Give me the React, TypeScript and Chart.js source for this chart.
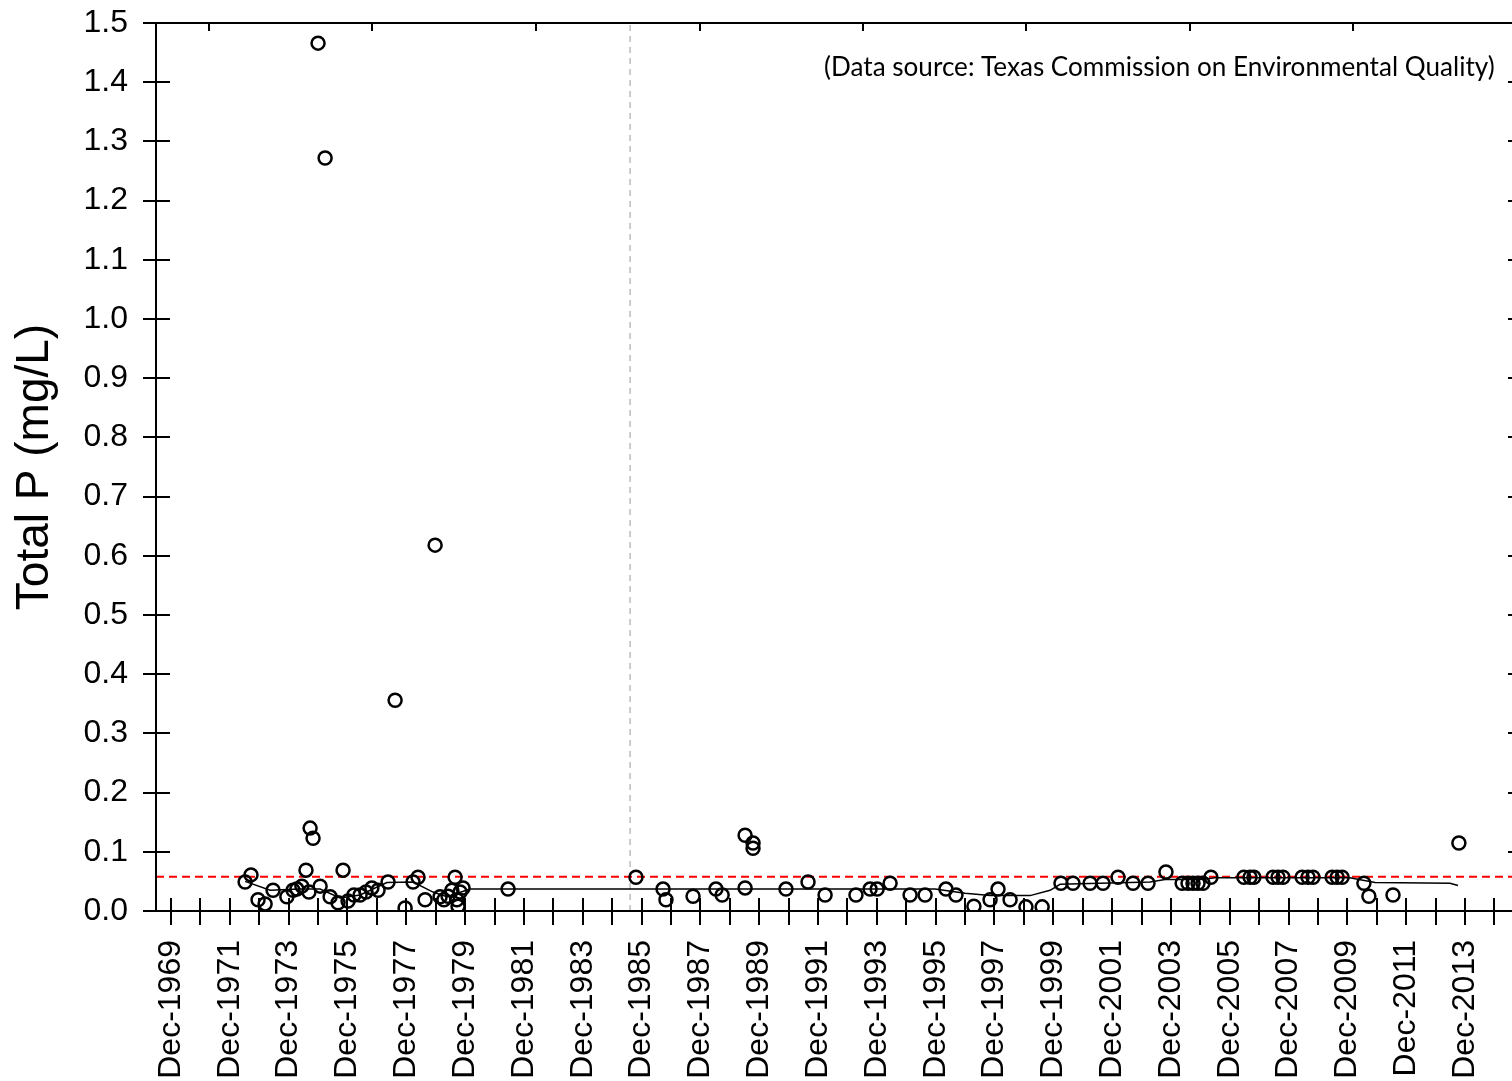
import React, { useEffect, useRef } from "react";
import { Chart, registerables } from "chart.js";

Chart.register(...registerables);

// ---- data ----
const sampleYears = [
  1972.44, 1972.64, 1972.88, 1973.12, 1973.39, 1973.86, 1974.07, 1974.2, 1974.37, 1974.51,
  1974.61, 1974.65, 1974.75, 1974.92, 1974.99, 1975.16, 1975.33, 1975.6, 1975.77, 1975.94,
  1976.14, 1976.35, 1976.55, 1976.75, 1976.96, 1977.3, 1977.54, 1977.88, 1978.15, 1978.32,
  1978.56, 1978.9, 1979.07, 1979.2, 1979.34, 1979.47, 1979.58, 1979.64, 1979.68, 1979.75,
  1979.85, 1981.38,
  1985.73, 1986.65, 1986.75, 1987.67, 1988.45, 1988.66, 1989.44, 1989.44, 1989.71, 1989.71,
  1990.83, 1991.58, 1992.16, 1993.21, 1993.69, 1993.93, 1994.37, 1995.05, 1995.56, 1996.27,
  1996.61, 1997.22, 1997.77, 1998.04, 1998.45, 1998.99, 1999.54, 2000.18, 2000.59, 2001.17,
  2001.61, 2002.12, 2002.63, 2003.14, 2003.75, 2004.3, 2004.5, 2004.67, 2004.84, 2005.01,
  2005.28, 2006.4, 2006.61, 2006.74, 2007.39, 2007.56, 2007.73, 2008.38, 2008.58, 2008.75,
  2009.4, 2009.57, 2009.74, 2010.48, 2010.65, 2011.47, 2013.71,
];
const sampleTP = [
  0.049, 0.061, 0.019, 0.012, 0.035, 0.024, 0.035, 0.037, 0.042, 0.069,
  0.032, 0.14, 0.123, 1.466, 0.042, 1.272, 0.024, 0.014, 0.069, 0.017,
  0.027, 0.027, 0.032, 0.039, 0.035, 0.049, 0.356, 0.005, 0.049, 0.057,
  0.019, 0.618, 0.024, 0.019, 0.025, 0.035, 0.057, 0.019, 0.008, 0.032,
  0.039, 0.037,
  0.057, 0.037, 0.019, 0.025, 0.037, 0.027, 0.128, 0.039, 0.115, 0.106,
  0.037, 0.049, 0.027, 0.027, 0.037, 0.037, 0.047, 0.027, 0.027, 0.037,
  0.027, 0.008, 0.019, 0.037, 0.019, 0.007, 0.007, 0.047, 0.047, 0.047,
  0.047, 0.057, 0.047, 0.047, 0.066, 0.047, 0.047, 0.047, 0.047, 0.047,
  0.057, 0.057, 0.057, 0.057, 0.057, 0.057, 0.057, 0.057, 0.057, 0.057,
  0.057, 0.057, 0.057, 0.047, 0.025, 0.027, 0.115,
];

const trendYears = [
  1972.44, 1973.29, 1974.31, 1974.99, 1975.67, 1976.35, 1977.26, 1978.15, 1978.83, 1979.3,
  1980.09, 1995.9, 1996.92, 1997.77, 1999.13, 1999.81, 2000.15, 2003.21, 2003.72, 2004.9,
  2005.42, 2010.0, 2010.86, 2013.41, 2013.68,
];
const trendTP = [
  0.05, 0.035, 0.037, 0.037, 0.022, 0.027, 0.048, 0.049, 0.032, 0.024,
  0.037, 0.037, 0.03, 0.026, 0.026, 0.035, 0.045, 0.049, 0.053, 0.053,
  0.056, 0.056, 0.048, 0.047, 0.043,
];

const criterionTP = 0.058;
const divideYear = 1985.53;

const xMin = 1969.41;
const xMax = 2015.72;

const decTickYears = [
  1969, 1970, 1971, 1972, 1973, 1974, 1975, 1976, 1977, 1978, 1979, 1980, 1981, 1982, 1983,
  1984, 1985, 1986, 1987, 1988, 1989, 1990, 1991, 1992, 1993, 1994, 1995, 1996, 1997, 1998,
  1999, 2000, 2001, 2002, 2003, 2004, 2005, 2006, 2007, 2008, 2009, 2010, 2011, 2012, 2013,
  2014,
];
const xLabelYears = [
  1969, 1971, 1973, 1975, 1977, 1979, 1981, 1983, 1985, 1987, 1989, 1991, 1993, 1995, 1997,
  1999, 2001, 2003, 2005, 2007, 2009, 2011, 2013,
];
const DEC_OFFSET = 0.92;
const topTickYears = [1971.21, 1976.75, 1982.33, 1987.91, 1993.45, 1998.99, 2004.57, 2010.12];
const yTicks = [0, 0.1, 0.2, 0.3, 0.4, 0.5, 0.6, 0.7, 0.8, 0.9, 1.0, 1.1, 1.2, 1.3, 1.4, 1.5];

const yTitle = "Total P (mg/L)";
const sourceNote = "(Data source: Texas Commission on Environmental Quality)";

const framePlugin = {
  id: "frame",
  afterDraw(chart: any) {
    const { ctx, chartArea: a, scales } = chart;
    const x = scales.x;
    const y = scales.y;
    ctx.save();
    ctx.strokeStyle = "#000";
    ctx.lineWidth = 2;
    const line = (x1: number, y1: number, x2: number, y2: number) => {
      ctx.beginPath();
      ctx.moveTo(x1, y1);
      ctx.lineTo(x2, y2);
      ctx.stroke();
    };
    const L = Math.round(a.left);
    const R = Math.round(a.right);
    const T = Math.round(a.top);
    const B = Math.round(a.bottom);
    line(L, T, L, B);
    line(L, B, R, B);
    line(L, T, R, T);
    line(R, T, R, B);
    yTicks.forEach((v) => {
      const py = Math.round(y.getPixelForValue(v));
      line(L - 13, py, L + 14, py);
      line(R - 10, py, R, py);
    });
    decTickYears.forEach((yr) => {
      const px = Math.round(x.getPixelForValue(yr + DEC_OFFSET));
      line(px, B - 13, px, B + 14);
    });
    topTickYears.forEach((v) => {
      const px = Math.round(x.getPixelForValue(v));
      line(px, T, px, T + 8);
    });
    // source note
    const targetW = 671;
    ctx.font = "24px Lato";
    const w = ctx.measureText(sourceNote).width;
    const size = (24 * targetW) / w;
    ctx.font = `${size}px Lato`;
    ctx.fillStyle = "#000";
    ctx.textAlign = "left";
    ctx.textBaseline = "middle";
    ctx.fillText(sourceNote, 824, 68);
    ctx.restore();
  },
};

export default function App() {
  const ref = useRef<HTMLCanvasElement | null>(null);
  useEffect(() => {
    if (!ref.current) return;
    const font = { family: "'Liberation Sans', Arial, sans-serif", size: 32 };
    const chart = new Chart(ref.current, {
      type: "scatter",
      data: {
        datasets: [
          {
            type: "scatter",
            data: sampleYears.map((v, i) => ({ x: v, y: sampleTP[i] })),
            pointRadius: 6.5,
            pointHoverRadius: 6.5,
            pointBorderWidth: 2.5,
            pointBorderColor: "#000",
            pointBackgroundColor: "rgba(0,0,0,0)",
            showLine: false,
            order: 0,
            clip: { left: 10, top: 10, right: 10, bottom: 0 },
          } as any,
          {
            type: "line",
            data: trendYears.map((v, i) => ({ x: v, y: trendTP[i] })),
            borderColor: "#000",
            borderWidth: 1.5,
            pointRadius: 0,
            tension: 0,
            fill: false,
            order: 1,
          } as any,
          {
            type: "line",
            data: [
              { x: xMin, y: criterionTP },
              { x: xMax, y: criterionTP },
            ],
            borderColor: "#ff0000",
            borderWidth: 2,
            borderDash: [8, 5],
            pointRadius: 0,
            fill: false,
            order: 2,
          } as any,
          {
            type: "line",
            data: [
              { x: divideYear, y: 0 },
              { x: divideYear, y: 1.5 },
            ],
            borderColor: "#bdbdbd",
            borderWidth: 1.5,
            borderDash: [6, 5],
            pointRadius: 0,
            fill: false,
            order: 3,
          } as any,
        ],
      },
      options: {
        responsive: false,
        animation: false,
        devicePixelRatio: 1,
        layout: { padding: { top: 23, right: 12, left: 0, bottom: 0 } },
        plugins: { legend: { display: false }, tooltip: { enabled: false } },
        scales: {
          x: {
            type: "linear",
            min: xMin,
            max: xMax,
            grid: { display: false, drawTicks: false },
            border: { display: false },
            afterBuildTicks: (s: any) => {
              s.ticks = xLabelYears.map((yr) => ({ value: yr + DEC_OFFSET }));
            },
            afterFit: (s: any) => {
              s.height = 170;
              s.paddingLeft = 0;
              s.paddingRight = 0;
            },
            ticks: {
              autoSkip: false,
              maxRotation: 90,
              minRotation: 90,
              padding: 29,
              color: "#000",
              font,
              callback: (v: any) => `Dec-${Math.floor(Number(v))}`,
            },
          },
          y: {
            type: "linear",
            min: 0,
            max: 1.5,
            grid: { display: false, drawTicks: false },
            border: { display: false },
            afterBuildTicks: (s: any) => {
              s.ticks = yTicks.map((v) => ({ value: v }));
            },
            afterFit: (s: any) => {
              s.width = 156;
              s.paddingTop = 0;
              s.paddingBottom = 0;
            },
            ticks: {
              autoSkip: false,
              padding: 28,
              color: "#000",
              font,
              callback: (v: any) => Number(v).toFixed(1),
            },
            title: {
              display: true,
              text: yTitle,
              color: "#000",
              font: { family: "'Liberation Sans', Arial, sans-serif", size: 46 },
              padding: { top: 8, bottom: 0 },
            },
          },
        },
      } as any,
      plugins: [framePlugin],
    });
    return () => chart.destroy();
  }, []);
  return (
    <div
      style={{
        position: "absolute",
        left: 0,
        top: 0,
        width: 1512,
        height: 1081,
        overflow: "hidden",
        background: "#fff",
      }}
    >
      <canvas ref={ref} width={1530} height={1081} style={{ display: "block", width: 1530, height: 1081 }} />
    </div>
  );
}
